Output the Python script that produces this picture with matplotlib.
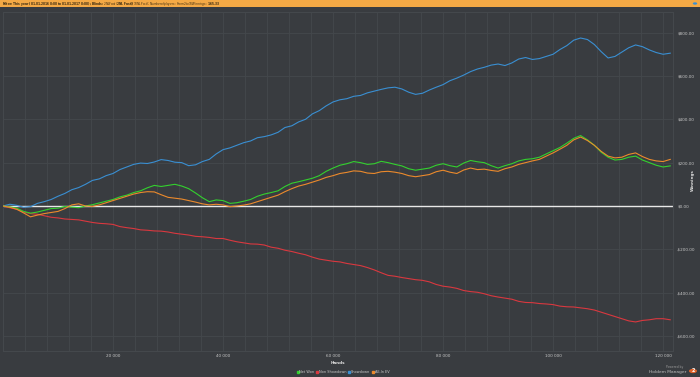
import numpy as np
import matplotlib
matplotlib.use("Agg")
import matplotlib.pyplot as plt
from matplotlib.patches import Rectangle, Circle
from matplotlib.lines import Line2D
from matplotlib.ticker import FuncFormatter, MultipleLocator

# ---------------- data ----------------
hands = list(np.arange(0, 120001, 1250)) + [121300]

showdown = [0, 8, 3, -6, -3, 12, 20, 30, 45, 58,
            75, 85, 100, 118, 125, 140, 150, 168, 180, 192,
            198, 196, 203, 214, 210, 202, 200, 186, 190, 205,
            215, 240, 260, 268, 280, 292, 300, 315, 320, 328,
            340, 362, 370, 388, 400, 425, 440, 462, 480, 490,
            495, 506, 510, 522, 530, 538, 545, 548, 540, 525,
            515, 520, 535, 548, 560, 578, 590, 604, 620, 632,
            640, 650, 655, 648, 660, 678, 685, 676, 680, 690,
            700, 722, 740, 765, 775, 768, 745, 712, 683, 690,
            710, 730, 743, 735, 720, 708, 700, 705]

net_won = [0, -4, -10, -25, -33, -28, -20, -12, -10, -2,
           -5, -8, 0, 6, 14, 22, 30, 42, 50, 62,
           70, 84, 95, 90, 95, 100, 92, 80, 60, 38,
           20, 28, 25, 12, 15, 22, 30, 45, 55, 62,
           70, 90, 105, 112, 120, 128, 140, 160, 175, 188,
           195, 205, 200, 192, 195, 206, 200, 192, 185, 172,
           165, 170, 175, 188, 195, 186, 180, 198, 210, 204,
           200, 186, 175, 186, 195, 208, 215, 218, 225, 240,
           255, 270, 290, 312, 325, 305, 280, 248, 225, 212,
           215, 225, 230, 212, 200, 188, 180, 185]

allin_ev = [0, -6, -15, -32, -50, -42, -35, -30, -25, -12,
            5, 10, 0, -2, 5, 15, 25, 35, 45, 55,
            62, 66, 65, 52, 40, 36, 32, 25, 18, 10,
            5, 8, 5, -3, 0, 4, 10, 20, 30, 40,
            50, 66, 80, 92, 100, 110, 120, 132, 140, 150,
            155, 162, 160, 152, 150, 158, 160, 156, 150, 140,
            135, 140, 145, 158, 165, 156, 150, 166, 175, 168,
            170, 164, 160, 172, 180, 192, 200, 208, 215, 230,
            245, 262, 280, 305, 318, 302, 280, 252, 230, 222,
            225, 238, 245, 228, 215, 208, 205, 215]

non_showdown = [0, -8, -15, -28, -35, -38, -45, -52, -55, -60,
                -62, -64, -70, -76, -80, -82, -85, -95, -100, -104,
                -110, -112, -115, -116, -120, -126, -130, -134, -140, -142,
                -145, -150, -150, -158, -165, -170, -175, -176, -180, -190,
                -195, -204, -210, -218, -225, -236, -245, -250, -255, -258,
                -265, -270, -275, -284, -295, -308, -320, -324, -330, -335,
                -340, -343, -350, -362, -370, -374, -380, -390, -395, -398,
                -405, -414, -420, -425, -430, -440, -445, -446, -450, -452,
                -455, -462, -465, -466, -470, -474, -480, -490, -500, -510,
                -520, -530, -535, -528, -525, -520, -520, -525]

series_names = ["Net Won", "Non Showdown", "Showdown", "All-In EV"]
series_colors = ["#33d12e", "#d9383f", "#3a8fd2", "#ec8a2c"]
x_ticks = [20000, 40000, 60000, 80000, 100000, 120000]
y_ticks = [-600, -400, -200, 0, 200, 400, 600, 800]
header = ("Filter: This year (01.01.2016 0:00 to 01.01.2017 0:00); Blinds: $2NL Fast ($2NL Fast)"
          "($10NL Fast); Number of players: From 2 to 10  Winnings: $165.33")

# ---------------- style ----------------
BG = "#393c40"
GRID = "#44484c"
TXT = "#c8c8c8"

W, H = 700, 377
fig = plt.figure(figsize=(W / 100, H / 100), dpi=100, facecolor=BG)

# header bar
fig.patches.append(Rectangle((0, 1 - 7 / H), 1, 7 / H, transform=fig.transFigure,
                             facecolor="#f4a945", edgecolor="none", zorder=0))
fig.text(2 / W, 1 - 3.6 / H, header, fontsize=2.1, color="#3a2a10", va="center", ha="left",
         fontweight="bold")
fig.patches.append(Circle((695 / W, 1 - 3.5 / H), 2.2 / W, transform=fig.transFigure,
                          facecolor="#3a8fd2", edgecolor="none"))

ax = fig.add_axes([3 / W, 1 - 351 / H, 670 / W, 339 / H])
ax.set_facecolor(BG)
ax.set_xlim(0, 121800)
ax.set_ylim(-669, 895)

ax.xaxis.set_major_locator(plt.FixedLocator(x_ticks))
ax.xaxis.set_minor_locator(MultipleLocator(4000))
ax.yaxis.set_major_locator(plt.FixedLocator(y_ticks))
ax.grid(which="minor", axis="x", color=GRID, linewidth=0.6)
ax.grid(which="major", axis="both", color=GRID, linewidth=0.6)
ax.set_axisbelow(True)

for s in ax.spines.values():
    s.set_color(GRID)
    s.set_linewidth(0.8)

ax.yaxis.tick_right()
ax.tick_params(axis="both", which="both", length=0, colors=TXT, labelsize=3.0)
ax.tick_params(axis="y", pad=3)
ax.tick_params(axis="x", pad=2)
ax.xaxis.set_major_formatter(FuncFormatter(lambda v, p: f"{int(v):,}".replace(",", " ")))
ax.yaxis.set_major_formatter(FuncFormatter(
    lambda v, p: ("-$" if v < 0 else "$") + f"{abs(v):.2f}"))

ax.axhline(0, color="#e8e8e8", linewidth=1.0, zorder=2)

ax.plot(hands, showdown, color=series_colors[2], linewidth=0.8, zorder=3)
ax.plot(hands, non_showdown, color=series_colors[1], linewidth=0.8, zorder=3)
ax.plot(hands, net_won, color=series_colors[0], linewidth=0.8, zorder=4)
ax.plot(hands, allin_ev, color=series_colors[3], linewidth=0.8, zorder=5)

ax.set_xlabel("Hands", fontsize=3.0, color="#e0e0e0", fontweight="bold", labelpad=2)
fig.text(693 / W, 1 - 180 / H, "Winnings", fontsize=3.0, color="#e0e0e0",
         fontweight="bold", rotation=90, ha="center", va="center")

handles = [Line2D([], [], marker="s", linestyle="none", markersize=1.8,
                  markerfacecolor=c, markeredgecolor=c) for c in series_colors]
fig.legend(handles, series_names, loc="center", bbox_to_anchor=(343 / W, 1 - 372 / H),
           ncol=4, frameon=False, fontsize=2.5, labelcolor=TXT, handletextpad=0.1,
           columnspacing=0.6, handlelength=0.6)

# logo
fig.text(683 / W, 1 - 367 / H, "Powered by", fontsize=2.2, color="#9a9a9a", ha="right", va="center")
fig.text(686 / W, 1 - 372 / H, "Holdem Manager", fontsize=3.2, color="#bdbdbd", ha="right", va="center")
fig.patches.append(Circle((693 / W, 1 - 371 / H), 4 / W, transform=fig.transFigure,
                          facecolor="#e0622a", edgecolor="none"))
fig.text(693 / W, 1 - 371 / H, "2", fontsize=3.5, color="white", ha="center", va="center",
         fontweight="bold")

fig.savefig("out.png", dpi=100, facecolor=BG)
